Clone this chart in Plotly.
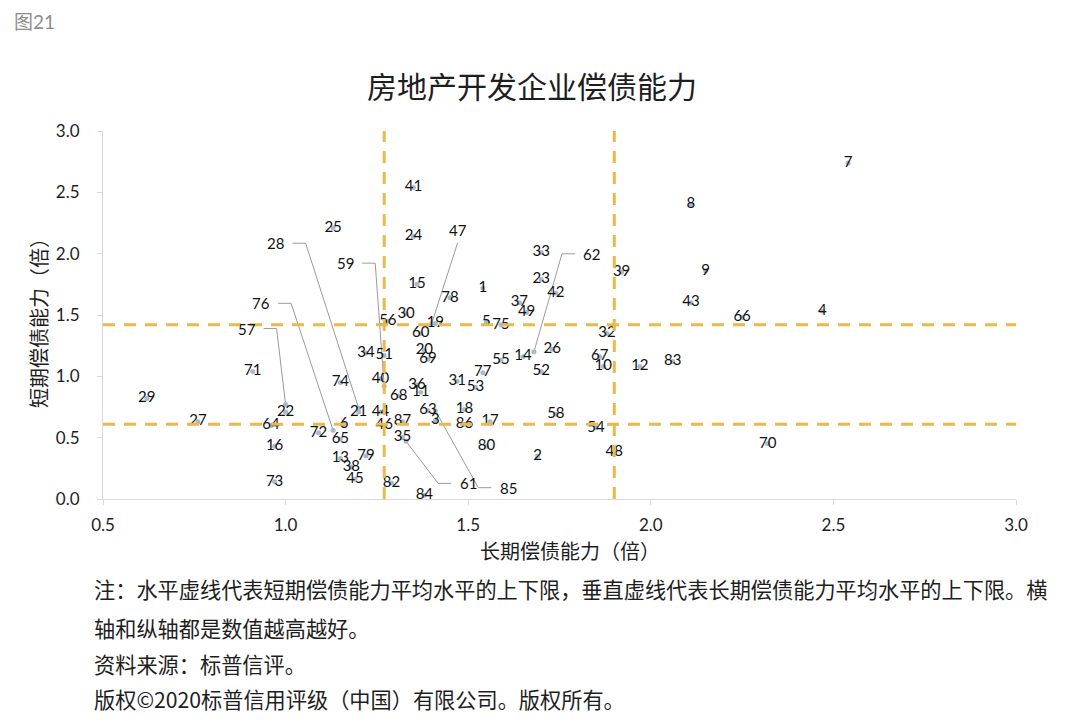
import plotly.graph_objects as go

# ---------------- data ----------------
company_id = [1, 2, 3, 4, 5, 6, 7, 8, 9, 10,
              11, 12, 13, 14, 15, 16, 17, 18, 19, 20,
              21, 22, 23, 24, 25, 26, 27, 28, 29, 30,
              31, 32, 33, 34, 35, 36, 37, 38, 39, 40,
              41, 42, 43, 44, 45, 46, 47, 48, 49, 51,
              52, 53, 54, 55, 56, 57, 58, 59, 60, 61,
              62, 63, 64, 65, 66, 67, 68, 69, 70, 71,
              72, 73, 74, 75, 76, 77, 78, 79, 80, 82,
              83, 84, 85, 86, 87]
long_term = [1.54, 1.69, 1.41, 2.47, 1.55, 1.16, 2.54, 2.11, 2.15, 1.87,
             1.37, 1.97, 1.15, 1.65, 1.36, 0.97, 1.56, 1.49, 1.41, 1.38,
             1.20, 1.00, 1.70, 1.35, 1.13, 1.73, 0.76, 1.20, 0.62, 1.33,
             1.47, 1.88, 1.70, 1.22, 1.32, 1.36, 1.64, 1.18, 1.92, 1.26,
             1.35, 1.74, 2.11, 1.26, 1.19, 1.27, 1.40, 1.90, 1.66, 1.27,
             1.70, 1.52, 1.85, 1.59, 1.28, 1.00, 1.74, 1.27, 1.37, 1.33,
             1.68, 1.39, 0.96, 1.15, 2.25, 1.86, 1.31, 1.39, 2.32, 0.91,
             1.09, 0.97, 1.15, 1.59, 1.13, 1.54, 1.45, 1.22, 1.55, 1.29,
             2.06, 1.38, 1.41, 1.49, 1.32]
short_term = [1.72, 0.35, 0.64, 1.53, 1.44, 0.61, 2.74, 2.40, 1.86, 1.08,
              0.87, 1.08, 0.33, 1.16, 1.75, 0.43, 0.63, 0.73, 1.43, 1.21,
              0.71, 0.71, 1.79, 2.14, 2.21, 1.22, 0.63, 0.74, 0.82, 1.51,
              0.96, 1.35, 2.01, 1.19, 0.50, 0.93, 1.60, 0.26, 1.85, 0.98,
              2.54, 1.68, 1.60, 0.71, 0.16, 0.60, 1.43, 0.38, 1.52, 1.17,
              1.04, 0.91, 0.58, 1.13, 1.45, 0.77, 0.69, 0.92, 1.35, 0.47,
              1.20, 0.72, 0.60, 0.49, 1.48, 1.16, 0.84, 1.14, 0.45, 1.04,
              0.54, 0.14, 0.95, 1.42, 0.56, 1.03, 1.64, 0.35, 0.43, 0.13,
              1.12, 0.03, 0.72, 0.61, 0.63]
long_bounds = [1.27, 1.90]    # 长期偿债能力平均水平上下限
short_bounds = [0.61, 1.42]   # 短期偿债能力平均水平上下限
x_ticks = [0.5, 1.0, 1.5, 2.0, 2.5, 3.0]
y_ticks = [0.0, 0.5, 1.0, 1.5, 2.0, 2.5, 3.0]

title_text = "房地产开发企业偿债能力"
x_title = "长期偿债能力（倍）"
y_title = "短期偿债能力（倍）"
fig_tag = "图21"
notes = ["注：水平虚线代表短期偿债能力平均水平的上下限，垂直虚线代表长期偿债能力平均水平的上下限。横",
         "轴和纵轴都是数值越高越好。",
         "资料来源：标普信评。",
         "版权©2020标普信用评级（中国）有限公司。版权所有。"]

# ---------------- layout / style ----------------
SHIFT = 8                      # page body margin of the html page
W, H = 1080 - 2 * SHIFT, 723 - 2 * SHIFT
M = dict(l=103 - SHIFT, r=64 - SHIFT, t=131 - SHIFT, b=224 - SHIFT)
XR, YR = [0.5, 3.0], [0.0, 3.0]
PW, PH = W - M["l"] - M["r"], H - M["t"] - M["b"]
PX_X = PW / (XR[1] - XR[0])
PX_Y = PH / (YR[1] - YR[0])

# label offsets (pixels, right / down) for labels drawn with leader lines
label_offsets = {28: (-83, -165), 59: (-39, -123), 76: (-72, -127), 57: (-39, -76),
                 47: (26, -94), 62: (58, -98), 61: (62, 42), 85: (73, 77)}

NUM_FONT = "Lato, 'Noto Sans CJK SC', sans-serif"
CJK_FONT = "'Noto Sans CJK SC', sans-serif"
LABEL_FONT = dict(family=NUM_FONT, size=15, color="#111111")
DASH_COLOR = "#EBB84B"
MARKER_COLOR = "#A7BBCF"

fig = go.Figure()

# leader lines (elbow style), built from the point and the label offset
for cid, (dx, dy) in label_offsets.items():
    i = company_id.index(cid)
    x0, y0 = long_term[i], short_term[i]
    if abs(dx) < 35:
        pts = [(dx, dy + 13), (0, 0)]
    elif dx < 0:
        pts = [(dx + 17, dy), (dx + 30, dy), (0, 0)]
    else:
        pts = [(dx - 17, dy), (dx - 30, dy), (0, 0)]
    fig.add_trace(go.Scatter(
        x=[x0 + p[0] / PX_X for p in pts],
        y=[y0 - p[1] / PX_Y for p in pts],
        mode="lines", line=dict(color="#9A9A9A", width=1),
        hoverinfo="skip", showlegend=False))

# points with centred labels
texts = ["" if c in label_offsets else str(c) for c in company_id]
fig.add_trace(go.Scatter(
    x=long_term, y=short_term, mode="markers+text",
    text=texts, textposition="middle center",
    textfont=LABEL_FONT,
    marker=dict(size=5, color=MARKER_COLOR),
    showlegend=False, cliponaxis=False))

# offset labels
for cid, (dx, dy) in label_offsets.items():
    i = company_id.index(cid)
    fig.add_annotation(x=long_term[i], y=short_term[i], text=str(cid),
                       xshift=dx, yshift=-dy, showarrow=False, font=LABEL_FONT)

# dashed reference lines
for xv in long_bounds:
    fig.add_shape(type="line", x0=xv, x1=xv, y0=YR[0], y1=YR[1], xref="x", yref="y",
                  line=dict(color=DASH_COLOR, width=3, dash="12px,9px"))
for yv in short_bounds:
    fig.add_shape(type="line", x0=XR[0], x1=XR[1], y0=yv, y1=yv, xref="x", yref="y",
                  line=dict(color=DASH_COLOR, width=3, dash="12px,9px"))


def paper(px, py):
    # px, py: position in the 1080x723 window
    return (px - SHIFT - M["l"]) / PW, 1 - (py - SHIFT - M["t"]) / PH


def add_text(px, py, text, size, color="#1E1E1E", xanchor="left", angle=0, family=CJK_FONT):
    xp, yp = paper(px, py)
    fig.add_annotation(x=xp, y=yp, xref="paper", yref="paper", text=text, showarrow=False,
                       xanchor=xanchor, yanchor="middle", textangle=angle,
                       font=dict(family=family, size=size, color=color))


add_text(12, 22, fig_tag, 19, color="#8C8C8C", family=NUM_FONT)
add_text(532, 85, title_text, 30, xanchor="center")
add_text(570, 550, x_title, 20, xanchor="center")
add_text(38, 318, y_title, 20, xanchor="center", angle=-90)
for line, py in zip(notes, [588, 627, 663, 698]):
    add_text(92, py, line, 21.2)

axis_common = dict(showgrid=False, zeroline=False, showline=True, linecolor="#D9D9D9",
                   linewidth=1, ticks="outside", tickcolor="#D9D9D9", ticklen=5,
                   tickfont=dict(family=NUM_FONT, size=17, color="#1E1E1E"))
fig.update_xaxes(range=XR, tickvals=x_ticks, ticktext=[f"{v:.1f}" for v in x_ticks],
                 ticklabelstandoff=6, **axis_common)
fig.update_yaxes(range=YR, tickvals=y_ticks, ticktext=[f"{v:.1f}" for v in y_ticks],
                 ticklabelstandoff=14, **axis_common)

fig.update_layout(width=W, height=H, margin=dict(l=M["l"], r=M["r"], t=M["t"], b=M["b"], pad=0),
                  paper_bgcolor="white", plot_bgcolor="white", showlegend=False)

fig.write_html("out.html")
